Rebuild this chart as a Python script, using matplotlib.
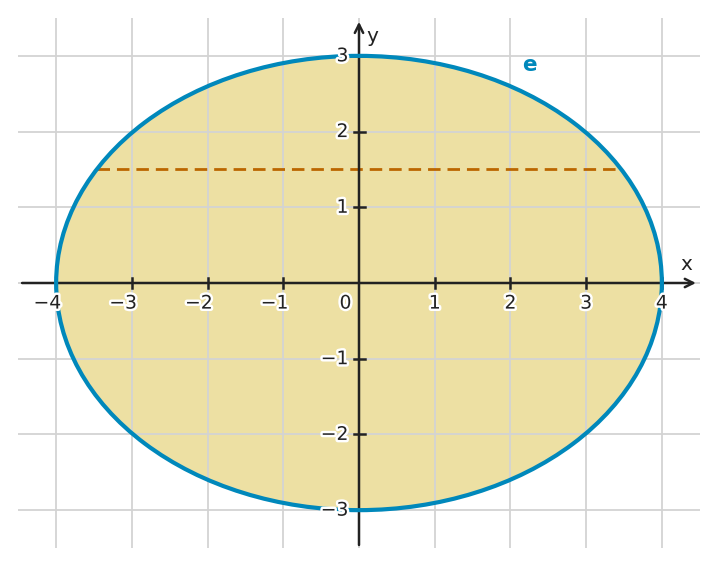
import matplotlib
matplotlib.use("Agg")
import matplotlib.pyplot as plt
import matplotlib.patheffects as pe
from matplotlib.patches import Ellipse
import numpy as np

# data
semi_axis_x = 4.0
semi_axis_y = 3.0
chord_y = 1.5
x_ticks = [-4, -3, -2, -1, 1, 2, 3, 4]
y_ticks = [-3, -2, -1, 1, 2, 3]
grid_x = [-4, -3, -2, -1, 0, 1, 2, 3, 4]
grid_y = [-3, -2, -1, 0, 1, 2, 3]
curve_label = "e"

fill_c = "#EDE0A3"
blue = "#0088BB"
orange = "#BB6600"
dark = "#222222"

fig = plt.figure(figsize=(7.19, 5.67), dpi=100)
ax = fig.add_axes([18/719, 1-548/567, 682/719, 530/567])
ax.set_xlim(-4.5, 4.5)
ax.set_ylim(-3.5, 3.5)
ax.set_aspect("equal")
ax.axis("off")

ax.add_patch(Ellipse((0, 0), 2*semi_axis_x, 2*semi_axis_y, facecolor=fill_c,
                     edgecolor="none", zorder=0))

for gx in grid_x:
    ax.plot([gx, gx], [-3.5, 3.5], color="#d3d3d3", lw=1.3, zorder=1)
for gy in grid_y:
    ax.plot([-4.5, 4.5], [gy, gy], color="#d3d3d3", lw=1.3, zorder=1)

# chord
xc = semi_axis_x*np.sqrt(1 - (chord_y/semi_axis_y)**2)
ax.plot([-xc, xc], [chord_y, chord_y], color=orange, lw=2, ls=(0, (4.5, 2.5)), zorder=3)

# axes with arrows
arrow = dict(arrowstyle="->,head_length=0.6,head_width=0.3", color=dark, lw=1.8,
             shrinkA=0, shrinkB=0)
ax.annotate("", xy=(4.45, 0), xytext=(-4.45, 0), arrowprops=arrow, zorder=4)
ax.annotate("", xy=(0, 3.45), xytext=(0, -3.46), arrowprops=arrow, zorder=4)

stroke = [pe.withStroke(linewidth=3.5, foreground="white")]
fs = 13.5
for t in x_ticks:
    ax.plot([t, t], [-0.07, 0.07], color=dark, lw=1.8, zorder=4)
    shift = -0.115 if t < 0 else 0.0
    ax.text(t + shift, -0.14, f"{t}".replace("-", "\u2212"), ha="center", va="top", fontsize=fs,
            color=dark, path_effects=stroke, zorder=6)
for t in y_ticks:
    ax.plot([-0.06, 0.08], [t, t], color=dark, lw=1.8, zorder=4)
    ax.text(-0.14, t, f"{t}".replace("-", "\u2212"), ha="right", va="center", fontsize=fs,
            color=dark, path_effects=stroke, zorder=6)
ax.text(-0.1, -0.14, "0", ha="right", va="top", fontsize=fs, color=dark,
        path_effects=stroke, zorder=6)
ax.text(4.32, 0.12, "x", ha="center", va="bottom", fontsize=fs+1, color=dark, zorder=6)
ax.text(0.1, 3.26, "y", ha="left", va="center", fontsize=fs+1, color=dark, zorder=6)

ax.add_patch(Ellipse((0, 0), 2*semi_axis_x, 2*semi_axis_y, facecolor="none",
                     edgecolor=blue, lw=3.0, zorder=5))
ax.text(2.25, 2.88, curve_label, ha="center", va="center", fontsize=fs+2,
        fontweight="bold", color=blue, zorder=6)

fig.savefig("out.png", dpi=100)
